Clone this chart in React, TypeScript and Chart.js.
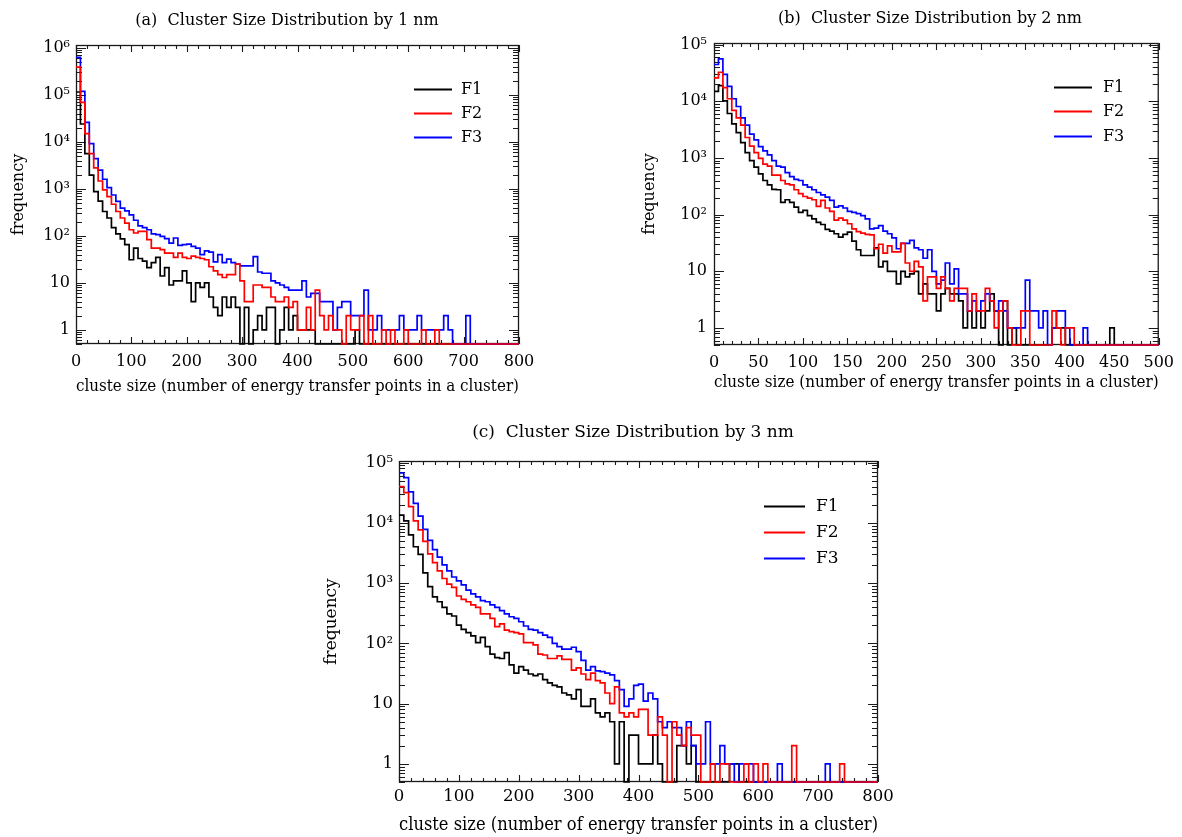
import React, { useEffect, useRef } from "react";
import { Chart, registerables } from "chart.js";

Chart.register(...registerables);

// ---------------- data ----------------
const SERIES_LABELS = ["F1", "F2", "F3"];
const SERIES_COLORS = ["#000000", "#ff0000", "#0000ff"];
const X_TITLE = "cluste size (number of energy transfer points in a cluster)";
const Y_TITLE = "frequency";

// (a) 1 nm, bins of 8
const A_TITLE = "(a)  Cluster Size Distribution by 1 nm";
const A_BIN = 8;
const A_X_TICKS = [0, 100, 200, 300, 400, 500, 600, 700, 800];
const A_Y_TICKS = [1, 10, 100, 1000, 10000, 100000, 1000000];
const A_F1 = [115000,24000,5600,1960,870,550,330,240,150,110, 86,65,31,55,33,29,21,27,35,14, 21,9,11,11,18,10,4,10,8,10, 5,3,2,5,3,5,3,0,3,0, 1,2,1,3,3,0,1,3,1,2, 1,1,1,1,0,0,0,0,0,0, 0,0,0,1,0,0,0,0,0,0, 0,0,0,0,0,0,0,0,0,0, 0,0,0,0,0,0,0,0,0,0, 0,0,0,0,0,0,0,0,0,0];
const A_F2 = [390000,69000,14900,5600,2800,1470,950,680,470,330, 240,187,135,115,124,124,83,55,55,51, 43,43,35,43,35,33,37,35,33,31, 22,18,15,13,15,15,25,11,4,4, 9,9,8,8,5,4,4,5,3,4, 1,1,3,1,7,2,1,2,1,1, 0,2,1,1,2,0,2,0,0,1, 0,1,0,0,1,0,0,0,1,0, 0,1,0,0,0,0,0,0,0,0, 0,0,0,0,0,0,0,0,0,0];
const A_F3 = [630000,118000,26000,9200,4400,2500,1600,1060,740,540, 390,340,280,215,163,150,135,110,106,97, 87,70,90,63,65,67,60,55,40,48, 45,28,40,27,32,27,25,23,23,23, 36,17,16,16,11,10,9,8,7,7, 7,11,5,6,6,4,4,4,1,3, 4,4,2,2,2,7,1,1,2,1, 1,1,1,2,1,1,1,2,1,1, 1,1,1,2,1,0,0,0,2,0, 0,0,0,0,0,0,0,0,0,0];

// (b) 2 nm, bins of 5
const B_TITLE = "(b)  Cluster Size Distribution by 2 nm";
const B_BIN = 5;
const B_X_TICKS = [0, 50, 100, 150, 200, 250, 300, 350, 400, 450, 500];
const B_Y_TICKS = [1, 10, 100, 1000, 10000, 100000];
const B_F1 = [15000,19000,10200,6100,4000,2800,1860,1240,900,690, 525,400,335,280,275,165,183,165,136,110, 119,96,84,73,67,55,51,46,40,45, 49,34,24,19,19,19,26,12,15,10, 10,6,10,8,9,10,4,6,4,4, 2,4,5,4,4,3,1,2,1,2, 1,2,4,2,0,3,0,1,0,0, 0,0,0,0,0,0,1,1,1,0, 0,0,0,0,0,0,0,0,0,1, 0,0,0,0,0,0,0,0,0,0];
const B_F2 = [26000,32600,17400,11100,6900,5100,3800,2300,1620,1240, 980,780,720,500,500,400,350,335,275,234, 209,196,183,140,178,131,114,80,87,80, 69,56,50,47,45,44,25,30,21,28, 22,22,31,14,10,15,12,3,8,8, 5,8,5,3,5,5,5,2,4,2, 2,5,3,1,2,3,1,0,0,2, 2,0,0,0,0,0,2,1,0,1, 1,0,0,0,0,0,0,0,0,0, 0,0,0,0,0,0,0,0,0,0];
const B_F3 = [44700,56000,29800,18300,11100,8100,5100,3800,2630,2090, 1590,1340,1130,900,720,690,550,470,420,400, 335,305,275,246,224,204,178,136,143,131, 114,110,104,96,84,56,58,64,51,46, 39,25,31,31,35,26,24,17,24,10, 6,7,14,6,11,4,4,2,3,2, 3,4,3,2,3,2,1,1,1,1, 7,2,2,1,2,0,1,2,2,1, 0,0,0,1,0,0,0,0,0,0, 0,0,0,0,0,0,0,0,0,0];

// (c) 3 nm, bins of 8
const C_TITLE = "(c)  Cluster Size Distribution by 3 nm";
const C_BIN = 8;
const C_X_TICKS = [0, 100, 200, 300, 400, 500, 600, 700, 800];
const C_Y_TICKS = [1, 10, 100, 1000, 10000, 100000];
const C_F1 = [13400,10800,6300,4000,3000,1480,870,590,490,395, 307,284,201,170,150,133,103,126,88,66, 58,56,70,44,32,41,36,31,29,31, 25,22,20,19,15,14,12,17,9,9, 12,7,6,7,5,1,5,0,3,3, 1,1,1,3,1,0,0,0,2,2, 1,2,0,0,0,0,0,0,0,1, 1,0,0,0,0,0,0,0,0,0, 0,0,0,0,0,0,0,0,0,0, 0,0,0,0,0,0,0,0,0,0];
const C_F2 = [39800,31600,18500,10800,7600,4900,3040,2180,1590,1190, 960,850,610,535,490,435,395,307,307,260, 190,210,166,156,150,143,103,103,94,66, 64,56,56,62,54,54,36,39,31,25, 32,24,22,15,10,19,7,6,7,6, 8,8,3,3,6,3,0,5,3,2, 4,3,3,0,0,1,0,1,1,0, 0,0,1,0,1,0,1,0,0,0, 0,0,2,0,0,0,0,0,0,0, 0,0,1,0,0,0,0,0,0,0];
const C_F3 = [67000,56000,32600,21000,12900,7800,5100,3600,2700,2000, 1590,1260,1090,930,765,660,590,510,490,435, 395,350,307,276,260,228,194,170,166,150, 137,126,100,88,80,80,86,73,52,36, 41,35,34,32,30,24,17,9,12,20, 21,11,15,12,5,4,5,4,4,2, 5,2,1,1,5,1,1,2,1,1, 0,1,1,1,0,0,0,0,0,1, 0,0,0,0,0,0,0,0,0,1, 0,0,0,0,0,0,0,0,0,0];

// ---------------- layout / style ----------------
const FONT = "'DejaVu Serif', 'Liberation Serif', serif";
const TEXT = "#000000";

type Layout = {
  left: number; top: number; width: number; height: number;
  padTop: number; padRight: number; yAxisW: number; xAxisH: number;
  yTitlePad: number; yTickPad: number; xTickPad: number; xTitlePad: number;
  titleX: number; titleY: number;
  fTick: number; fTitle: number; fXTitle: number; fYTitle: number; fLegend: number;
  lgX0: number; lgX1: number; lgTx: number; lgRows: number[];
};

type Spec = {
  id: string; title: string; bin: number; series: number[][];
  xMax: number; xTicks: number[]; xMinor: number; xMajor: number;
  yMin: number; yMax: number; yTicks: number[]; L: Layout;
};

const PANELS: Spec[] = [
  {
    id: "a", title: A_TITLE, bin: A_BIN, series: [A_F1, A_F2, A_F3],
    xMax: 800, xTicks: A_X_TICKS, xMinor: 20, xMajor: 100,
    yMin: 0.5, yMax: 1.15e6, yTicks: A_Y_TICKS,
    L: { left: 0, top: 0, width: 550, height: 400, padTop: 45, padRight: 31, yAxisW: 76, xAxisH: 56,
      yTitlePad: 9, yTickPad: 6, xTickPad: 8, xTitlePad: 3, titleX: 287, titleY: 21,
      fTick: 16, fTitle: 16, fXTitle: 16.6, fYTitle: 16, fLegend: 16, lgX0: 414, lgX1: 452, lgTx: 461, lgRows: [89, 113, 137] },
  },
  {
    id: "b", title: B_TITLE, bin: B_BIN, series: [B_F1, B_F2, B_F3],
    xMax: 500, xTicks: B_X_TICKS, xMinor: 10, xMajor: 50,
    yMin: 0.5, yMax: 1.07e5, yTicks: B_Y_TICKS,
    L: { left: 630, top: 0, width: 552, height: 400, padTop: 43, padRight: 21, yAxisW: 84, xAxisH: 55,
      yTitlePad: 10, yTickPad: 7, xTickPad: 8, xTitlePad: 7, titleX: 300, titleY: 19,
      fTick: 16, fTitle: 16, fXTitle: 16.8, fYTitle: 16, fLegend: 16, lgX0: 424, lgX1: 462, lgTx: 473, lgRows: [87, 111, 136] },
  },
  {
    id: "c", title: C_TITLE, bin: C_BIN, series: [C_F1, C_F2, C_F3],
    xMax: 800, xTicks: C_X_TICKS, xMinor: 20, xMajor: 100,
    yMin: 0.5, yMax: 1.06e5, yTicks: C_Y_TICKS,
    L: { left: 310, top: 415, width: 600, height: 422, padTop: 46, padRight: 32, yAxisW: 89, xAxisH: 55,
      yTitlePad: 11, yTickPad: 6, xTickPad: 5, xTitlePad: 1, titleX: 323, titleY: 18,
      fTick: 16.5, fTitle: 17, fXTitle: 17.7, fYTitle: 17, fLegend: 17, lgX0: 454, lgX1: 495, lgTx: 506, lgRows: [91, 117, 143] },
  },
];

const SUP: Record<string, string> = { "0": "⁰", "1": "¹", "2": "²", "3": "³", "4": "⁴", "5": "⁵", "6": "⁶", "7": "⁷", "8": "⁸", "9": "⁹" };
function powLabel(v: number): string {
  const e = Math.round(Math.log10(v));
  if (e === 0) return "1";
  if (e === 1) return "10";
  return "10" + String(e).split("").map((d) => SUP[d]).join("");
}

// histogram outline: each bin's value extends over [left edge, right edge)
function histPoints(counts: number[], bin: number, floor: number) {
  const val = (c: number) => (c > 0 ? c : floor); // empty bins sit on the axis floor
  const pts = counts.map((c, i) => ({ x: i * bin, y: val(c) }));
  pts.push({ x: counts.length * bin, y: val(counts[counts.length - 1]) });
  return pts;
}

function makeDecor(spec: Spec) {
  const L = spec.L;
  return {
    id: "decor_" + spec.id,
    beforeDatasetsDraw(chart: any) {
      const { ctx, chartArea: a } = chart;
      const xs = chart.scales.x;
      const ys = chart.scales.y;
      ctx.save();
      ctx.strokeStyle = "#1a1a1a";
      ctx.lineWidth = 1.3;
      ctx.strokeRect(a.left + 0.5, a.top + 0.5, a.right - a.left - 1, a.bottom - a.top - 1);
      ctx.lineWidth = 1.1;
      ctx.beginPath();
      const n = Math.round(spec.xMax / spec.xMinor);
      for (let k = 0; k <= n; k++) {
        const v = k * spec.xMinor;
        const px = Math.round(xs.getPixelForValue(v)) + 0.5;
        const major = Math.abs(v / spec.xMajor - Math.round(v / spec.xMajor)) < 1e-9;
        const len = major ? 7 : 4;
        ctx.moveTo(px, a.bottom); ctx.lineTo(px, a.bottom - len);
        ctx.moveTo(px, a.top); ctx.lineTo(px, a.top + len);
      }
      const e0 = Math.floor(Math.log10(spec.yMin));
      const e1 = Math.ceil(Math.log10(spec.yMax));
      for (let e = e0; e <= e1; e++) {
        for (let m = 1; m <= 9; m++) {
          const v = m * Math.pow(10, e);
          if (v < spec.yMin || v > spec.yMax) continue;
          const py = Math.round(ys.getPixelForValue(v)) + 0.5;
          const len = m === 1 ? 10 : 6;
          ctx.moveTo(a.left, py); ctx.lineTo(a.left + len, py);
          ctx.moveTo(a.right, py); ctx.lineTo(a.right - len, py);
        }
      }
      ctx.stroke();
      ctx.restore();
    },
    afterDraw(chart: any) {
      const { ctx } = chart;
      ctx.save();
      ctx.fillStyle = TEXT;
      ctx.font = `${L.fTitle}px ${FONT}`;
      ctx.textAlign = "center";
      ctx.textBaseline = "middle";
      ctx.fillText(spec.title, L.titleX, L.titleY);
      ctx.font = `${L.fLegend}px ${FONT}`;
      ctx.textAlign = "left";
      SERIES_LABELS.forEach((lab, i) => {
        const y = L.lgRows[i];
        ctx.strokeStyle = SERIES_COLORS[i];
        ctx.lineWidth = 1.8;
        ctx.beginPath();
        ctx.moveTo(L.lgX0, y + 0.5);
        ctx.lineTo(L.lgX1, y + 0.5);
        ctx.stroke();
        ctx.fillStyle = TEXT;
        ctx.fillText(lab, L.lgTx, y + 1);
      });
      ctx.restore();
    },
  };
}

function buildConfig(spec: Spec): any {
  const L = spec.L;
  const orders = [3, 1, 2]; // red on top, then blue, black underneath
  const datasets = spec.series.map((s, i) => ({
    type: "line",
    label: SERIES_LABELS[i],
    data: histPoints(s, spec.bin, spec.yMin),
    borderColor: SERIES_COLORS[i],
    backgroundColor: SERIES_COLORS[i],
    borderWidth: 1.7,
    pointRadius: 0,
    pointHoverRadius: 0,
    stepped: "before",
    fill: false,
    tension: 0,
    clip: false,
    order: orders[i],
  }));
  return {
    type: "line",
    data: { datasets },
    options: {
      responsive: false,
      maintainAspectRatio: false,
      animation: false,
      events: [],
      layout: { padding: { top: L.padTop, right: L.padRight, left: 0, bottom: 0 } },
      plugins: { legend: { display: false }, tooltip: { enabled: false }, title: { display: false } },
      scales: {
        x: {
          type: "linear",
          min: 0,
          max: spec.xMax,
          bounds: "data",
          afterBuildTicks: (s: any) => { s.ticks = spec.xTicks.map((v) => ({ value: v })); },
          afterFit: (s: any) => { s.height = L.xAxisH; },
          ticks: { autoSkip: false, maxRotation: 0, minRotation: 0, padding: L.xTickPad, color: TEXT,
            font: { family: FONT, size: L.fTick }, callback: (v: any) => String(v) },
          grid: { display: false, drawTicks: false },
          border: { display: false },
          title: { display: true, text: X_TITLE, color: TEXT, font: { family: FONT, size: L.fXTitle },
            padding: { top: 0, bottom: L.xTitlePad } },
        },
        y: {
          type: "logarithmic",
          min: spec.yMin,
          max: spec.yMax,
          bounds: "data",
          afterBuildTicks: (s: any) => { s.ticks = spec.yTicks.map((v) => ({ value: v, major: true })); },
          afterFit: (s: any) => { s.width = L.yAxisW; },
          ticks: { autoSkip: false, padding: L.yTickPad, color: TEXT, font: { family: FONT, size: L.fTick },
            callback: (v: any) => powLabel(Number(v)) },
          grid: { display: false, drawTicks: false },
          border: { display: false },
          title: { display: true, text: Y_TITLE, color: TEXT, font: { family: FONT, size: L.fYTitle },
            padding: { top: L.yTitlePad, bottom: 0 } },
        },
      },
    },
    plugins: [makeDecor(spec)],
  };
}

function Panel({ spec }: { spec: Spec }) {
  const ref = useRef<HTMLCanvasElement>(null);
  useEffect(() => {
    const chart = new Chart(ref.current as HTMLCanvasElement, buildConfig(spec));
    return () => chart.destroy();
  }, [spec]);
  const L = spec.L;
  return (
    <canvas
      ref={ref}
      width={L.width}
      height={L.height}
      style={{ position: "absolute", left: L.left, top: L.top, width: L.width, height: L.height }}
    />
  );
}

export default function App() {
  return (
    <div style={{ position: "absolute", left: 0, top: 0, width: 1182, height: 837, background: "#ffffff", overflow: "hidden" }}>
      {PANELS.map((p) => (
        <Panel key={p.id} spec={p} />
      ))}
    </div>
  );
}
